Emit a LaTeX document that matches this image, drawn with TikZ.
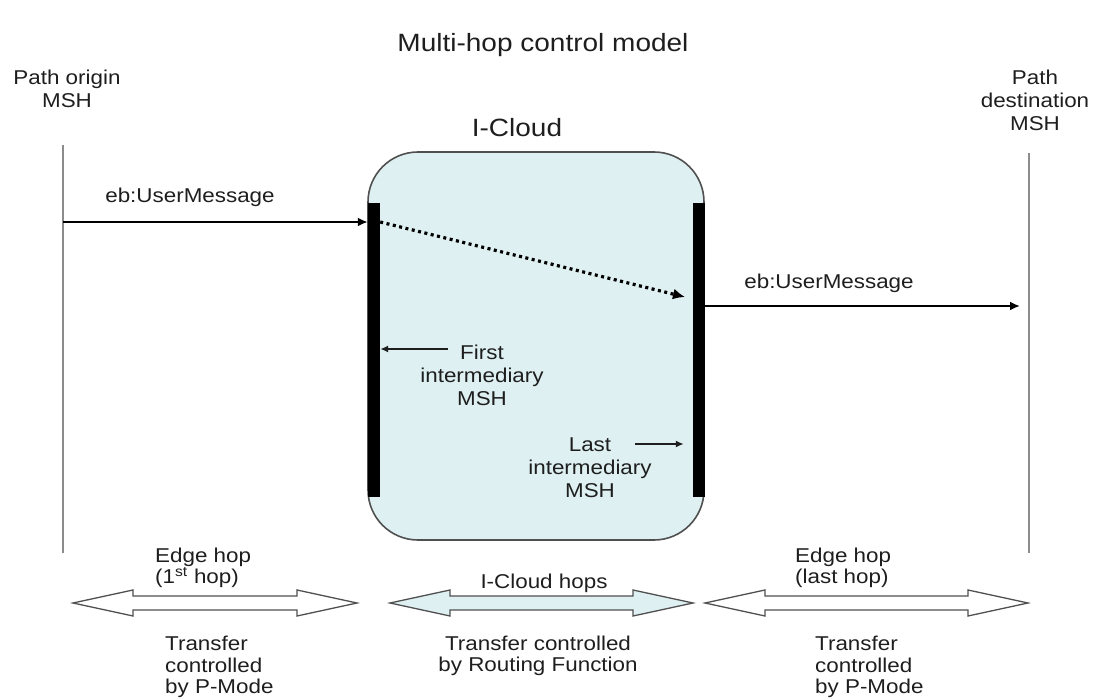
\documentclass[tikz,border=0pt]{standalone}
\usepackage{fontspec}
\setmainfont{Liberation Sans}[FakeStretch=1.12]
\usepackage{tikz}
\usetikzlibrary{arrows.meta,calc,positioning}
\definecolor{wolke}{RGB}{222,240,241}
\definecolor{rand}{RGB}{80,80,80}
\definecolor{linie}{RGB}{140,140,140}
\definecolor{schrift}{RGB}{30,30,30}
\tikzset{
  txt/.style={font=\fontsize{20}{23}\selectfont,text=schrift,align=center,inner sep=0pt},
  unten/.style={font=\fontsize{20}{21.5}\selectfont,text=schrift,align=left,inner sep=0pt},
  gross/.style={font=\fontsize{25}{28}\selectfont,text=schrift,inner sep=0pt},
  lebenslinie/.style={draw=linie,line width=2.8pt},
  wolkebox/.style={draw=rand,fill=wolke,line width=1.6pt,rounded corners=50pt,minimum width=336,minimum height=388,inner sep=0pt},
  balken/.style={fill=black,minimum width=12,minimum height=294,inner sep=0pt},
  msg/.style={line width=2.6pt,-{Latex[length=10pt,width=9pt]}},
  punkt/.style={line width=3.2pt,dash pattern=on 3pt off 3.5pt,-{Latex[length=12pt,width=11pt]}},
  zeiger/.style={draw=schrift,line width=1.7pt,-{Latex[length=8pt,width=7pt]}},
  hop/.style={draw=rand,line width=1.3pt}
}
\begin{document}
\begin{tikzpicture}[x=1pt,y=-1pt]
\useasboundingbox (0,0) rectangle (1093,700);
\node[gross] (titel) at (543,45) {Multi-hop control model};
\node[txt] (ursprung) at (67,89) {Path origin\\MSH};
\node[txt] (ziel) at (1035,100) {Path\\destination\\MSH};
\coordinate (qa) at (63,145);
\coordinate (qb) at (63,553);
\coordinate (za) at (1029,153);
\coordinate (zb) at (1029,553);
\draw[lebenslinie] (qa) -- (qb);
\draw[lebenslinie] (za) -- (zb);
\node[gross] (icloud) at (517,128) {I-Cloud};
\node[wolkebox] (cloud) at (536,346) {};
\node[balken] (links) at (374,350) {};
\node[balken] (rechts) at (699,350) {};
\coordinate (m1) at (63,222);
\coordinate (p2) at (685,297);
\coordinate (m2) at (1020,306);
\draw[msg] (m1) -- (links.west |- m1);
\node[txt] (msg1) at (190,197) {eb:UserMessage};
\draw[punkt] (links.east |- m1) -- (p2);
\draw[msg] (rechts.east |- m2) -- (m2);
\node[txt] (msg2) at (829,283) {eb:UserMessage};
\node[txt] (erster) at (482,375) {First\\intermediary\\MSH};
\coordinate (e1) at (448,349);
\draw[zeiger] (e1) -- (links.east |- e1);
\node[txt] (letzter) at (590,468) {Last\\intermediary\\MSH};
\coordinate (l1) at (635,444);
\draw[zeiger] (l1) -- ([xshift=-9pt]rechts.west |- l1);
\foreach \xa/\xb/\farbe in {73/357/white,390/693/wolke,705/1028/white}
  \draw[hop,fill=\farbe] (\xa,603) -- ({\xa+60},590) -- ({\xa+60},596) -- ({\xb-60},596)
    -- ({\xb-60},590) -- (\xb,603) -- ({\xb-60},616) -- ({\xb-60},610)
    -- ({\xa+60},610) -- ({\xa+60},616) -- cycle;
\node[unten,anchor=west] (kante1) at (155,568) {Edge hop\\(1\textsuperscript{st} hop)};
\node[txt] (hops) at (544,583) {I-Cloud hops};
\node[unten,anchor=west] (kante2) at (795,568) {Edge hop\\(last hop)};
\node[unten,anchor=west] (trans1) at (165,667) {Transfer\\controlled\\by P-Mode};
\node[unten,align=center] (trans2) at (538,656) {Transfer controlled\\by Routing Function};
\node[unten,anchor=west] (trans3) at (815,667) {Transfer\\controlled\\by P-Mode};
\end{tikzpicture}
\end{document}
